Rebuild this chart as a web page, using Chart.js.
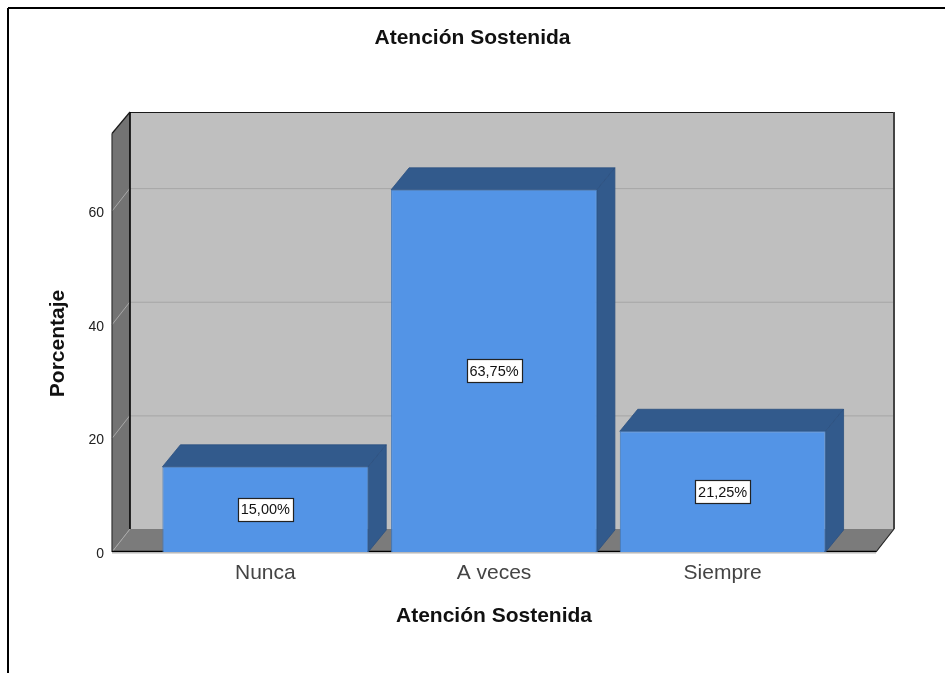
<!DOCTYPE html>
<html><head><meta charset="utf-8">
<style>html,body{margin:0;padding:0;background:#fff}#w{position:relative;width:945px;height:673px}</style>
<script src="https://cdn.jsdelivr.net/npm/chart.js@4"></script>
</head><body><div id="w"><canvas id="c" width="945" height="673"></canvas></div>
<script>
const categories = ["Nunca", "A veces", "Siempre"];
const percentages = [15.00, 63.75, 21.25];
const valueLabels = ["15,00%", "63,75%", "21,25%"];
const titleText = "Atención Sostenida";
const xAxisTitle = "Atención Sostenida";
const yAxisTitle = "Porcentaje";

const DX = 18, DY = 22, WALL_DY = 23, MARGIN = 39;
const FONT = '"Liberation Sans", Arial, sans-serif';

function poly(ctx, pts, fill, stroke, lw) {
  ctx.beginPath();
  pts.forEach((p, i) => i ? ctx.lineTo(p[0], p[1]) : ctx.moveTo(p[0], p[1]));
  ctx.closePath();
  if (fill) { ctx.fillStyle = fill; ctx.fill(); }
  if (stroke) { ctx.strokeStyle = stroke; ctx.lineWidth = lw || 1; ctx.stroke(); }
}
function line(ctx, a, b, color, lw) {
  ctx.beginPath(); ctx.moveTo(a[0], a[1]); ctx.lineTo(b[0], b[1]);
  ctx.strokeStyle = color; ctx.lineWidth = lw || 1; ctx.stroke();
}

const box3d = {
  id: "box3d",
  beforeDatasetsDraw(chart) {
    const ctx = chart.ctx, xs = chart.scales.x, ys = chart.scales.y;
    const L = xs.left - MARGIN, R = xs.right + MARGIN, T = ys.top, B = ys.bottom;
    const backT = T - WALL_DY, backB = B - WALL_DY, leftT = T - 1.5;
    ctx.save();
    // page frame
    line(ctx, [8, 8], [945, 8], "#000", 2);
    line(ctx, [8, 8], [8, 673], "#000", 2);
    // back wall
    poly(ctx, [[L + DX, backT], [R + DX, backT], [R + DX, backB], [L + DX, backB]], "#bfbfbf");
    // left wall
    poly(ctx, [[L, leftT], [L + DX, backT], [L + DX, backB], [L, B]], "#737373");
    // floor
    poly(ctx, [[L, B], [L + DX, backB], [R + DX, backB], [R, B]], "#7b7b7b");
    // grid
    ys.ticks.forEach(t => {
      const y = ys.getPixelForValue(t.value);
      if (t.value !== 0) line(ctx, [L + DX, y - WALL_DY + .5], [R + DX, y - WALL_DY + .5], "#a6a6a6", 1);
      line(ctx, [L, y], [L + DX, y - WALL_DY], "#a8a8a8", 1);
    });
    // outlines
    line(ctx, [L + DX, backT + .5], [R + DX, backT + .5], "#1a1a1a", 1.2);
    line(ctx, [L + DX, backT], [L + DX, backB], "#000", 1.6);
    line(ctx, [R + DX, backT], [R + DX, backB], "#444", 2);
    line(ctx, [L, leftT], [L + DX, backT], "#1a1a1a", 1.2);
    line(ctx, [L, leftT], [L, B], "#333", 1.2);
    line(ctx, [R, B], [R + DX, backB], "#222", 1.2);
    line(ctx, [L, B - .5], [R, B - .5], "#000", 1.5);
    line(ctx, [L, B + 1], [R, B + 1], "#b4b4b4", 1);
    // bar depth faces
    chart.getDatasetMeta(0).data.forEach(bar => {
      const l = bar.x - bar.width / 2, r = bar.x + bar.width / 2, t = bar.y, b = bar.base;
      poly(ctx, [[l, t], [l + DX, t - DY], [r + DX, t - DY], [r, t]], "#325a8c", "#2c5180", .8);
      poly(ctx, [[r, t], [r + DX, t - DY], [r + DX, b - DY], [r, b]], "#325a8c", "#2c5180", .8);
    });
    ctx.restore();
  },
  afterDatasetsDraw(chart) {
    const ctx = chart.ctx;
    ctx.save();
    ctx.font = "14.5px " + FONT;
    ctx.textAlign = "center"; ctx.textBaseline = "middle";
    chart.getDatasetMeta(0).data.forEach((bar, i) => {
      const cy = (bar.y + bar.base) / 2, w = 55, h = 23;
      const x0 = Math.round(bar.x - w / 2) + .5, y0 = Math.round(cy - h / 2) + .5;
      ctx.fillStyle = "#fff"; ctx.fillRect(x0, y0, w, h);
      ctx.strokeStyle = "#222"; ctx.lineWidth = 1.2; ctx.strokeRect(x0, y0, w, h);
      ctx.fillStyle = "#111";
      ctx.fillText(valueLabels[i], bar.x, cy + 1);
    });
    ctx.restore();
  }
};

new Chart(document.getElementById("c"), {
  type: "bar",
  data: { labels: categories, datasets: [{
    data: percentages,
    backgroundColor: "#5394e6",
    borderColor: "#3f78bd",
    borderWidth: 1,
    barPercentage: 1,
    categoryPercentage: 0.9
  }]},
  plugins: [box3d],
  options: {
    responsive: false,
    animation: false,
    layout: { padding: 0 },
    plugins: {
      legend: { display: false },
      tooltip: { enabled: false },
      title: {
        display: true, text: titleText, color: "#111", fullSize: true,
        font: { family: FONT, size: 21, weight: "bold", lineHeight: 1.2 },
        padding: { top: 25.4, bottom: 84.4 }
      }
    },
    scales: {
      x: {
        afterFit(s) { s.height = 121; },
        grid: { display: false, drawTicks: false },
        border: { display: false },
        ticks: { color: "#444", font: { family: FONT, size: 21 }, padding: 9, autoSkip: false, maxRotation: 0 },
        title: { display: true, text: xAxisTitle, color: "#111",
          font: { family: FONT, size: 21, weight: "bold", lineHeight: 1.2 },
          padding: { top: 0, bottom: 44.4 } }
      },
      y: {
        min: 0, max: 73.4,
        afterFit(s) { s.width = 151; },
        grid: { display: false, drawTicks: false },
        border: { display: false },
        ticks: { stepSize: 20, includeBounds: false, color: "#222", font: { family: FONT, size: 14 }, padding: 47, labelOffset: 2 },
        title: { display: true, text: yAxisTitle, color: "#111",
          font: { family: FONT, size: 21, weight: "bold", lineHeight: 1.2 },
          padding: { top: 46, bottom: 0 } }
      },
      spacer: {
        type: "linear", position: "right", display: true,
        afterFit(s) { s.width = 108; },
        grid: { display: false, drawTicks: false },
        border: { display: false },
        ticks: { display: false }
      }
    }
  }
});
</script></body></html>
